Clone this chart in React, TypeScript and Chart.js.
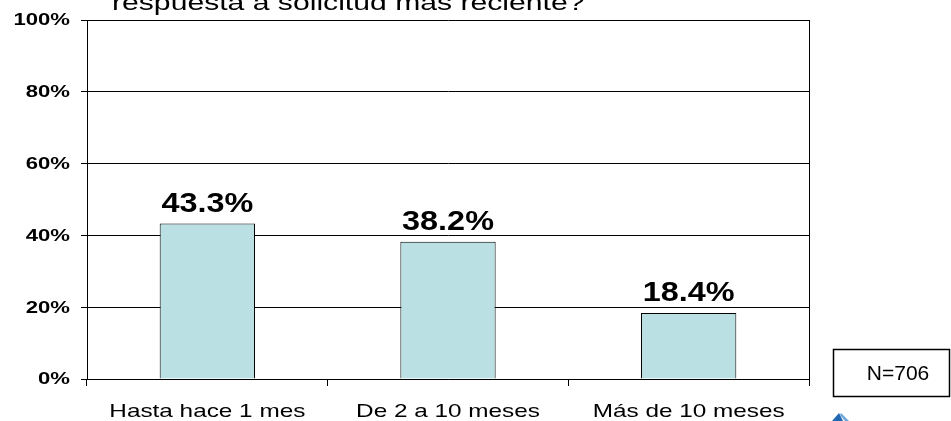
import React, { useEffect, useRef } from "react";
import { Chart, registerables } from "chart.js";

Chart.register(...registerables);

const categories = ["Hasta hace 1 mes", "De 2 a 10 meses", "Más de 10 meses"];
const values = [43.3, 38.2, 18.4];
const valueLabels = ["43.3%", "38.2%", "18.4%"];
const yTicks = [0, 20, 40, 60, 80, 100];
const yTickLabels = ["0%", "20%", "40%", "60%", "80%", "100%"];
const titleText = "respuesta a solicitud más reciente?";
const noteText = "N=706";

const FONT = "'Liberation Sans', Arial, sans-serif";

function stretchText(
  ctx: CanvasRenderingContext2D,
  text: string,
  x: number,
  y: number,
  font: string,
  sx: number,
  align: "left" | "center" | "right",
  baseline: CanvasTextBaseline,
  color = "#000"
) {
  ctx.save();
  ctx.font = font;
  ctx.fillStyle = color;
  ctx.textBaseline = baseline;
  ctx.textAlign = "left";
  const w = ctx.measureText(text).width * sx;
  const left = align === "center" ? x - w / 2 : align === "right" ? x - w : x;
  ctx.translate(left, y);
  ctx.scale(sx, 1);
  ctx.fillText(text, 0, 0);
  ctx.restore();
}

const decorPlugin = {
  id: "decor",
  afterDraw(chart: any) {
    const ctx: CanvasRenderingContext2D = chart.ctx;
    const { chartArea } = chart;
    const xs = chart.scales.x;
    const ys = chart.scales.y;

    // right border of plot area
    ctx.save();
    ctx.strokeStyle = "#000";
    ctx.lineWidth = 1;
    ctx.beginPath();
    ctx.moveTo(Math.round(chartArea.right) + 0.5, chartArea.top);
    ctx.lineTo(Math.round(chartArea.right) + 0.5, chartArea.bottom);
    ctx.stroke();
    ctx.restore();

    // y tick labels
    yTicks.forEach((v, i) => {
      const y = ys.getPixelForValue(v);
      stretchText(ctx, yTickLabels[i], 70, y + 1, `bold 16px ${FONT}`, 1.38, "right", "middle");
    });

    // x labels
    categories.forEach((c, i) => {
      const x = xs.getPixelForValue(i);
      stretchText(ctx, c, x, 412, `19px ${FONT}`, 1.28, "center", "middle");
    });

    // value labels
    const meta = chart.getDatasetMeta(0);
    meta.data.forEach((bar: any, i: number) => {
      stretchText(ctx, valueLabels[i], bar.x, bar.y - 12, `bold 27px ${FONT}`, 1.2, "center", "alphabetic");
    });

    // title (cut off at top)
    stretchText(ctx, titleText, 112, 10, `22px ${FONT}`, 1.37, "left", "alphabetic");

    // N box
    ctx.save();
    ctx.strokeStyle = "#000";
    ctx.lineWidth = 1.5;
    ctx.strokeRect(833.5, 349.5, 116, 47);
    ctx.restore();
    stretchText(ctx, noteText, 898, 374, `21px ${FONT}`, 1.0, "center", "middle");

    // small blue icon
    ctx.save();
    ctx.fillStyle = "#1f67b1";
    ctx.beginPath();
    ctx.moveTo(832, 421);
    ctx.lineTo(839, 413);
    ctx.lineTo(843, 421);
    ctx.closePath();
    ctx.fill();
    ctx.fillStyle = "#6fa6d8";
    ctx.beginPath();
    ctx.moveTo(841, 413);
    ctx.lineTo(849, 421);
    ctx.lineTo(845, 421);
    ctx.lineTo(840, 415);
    ctx.closePath();
    ctx.fill();
    ctx.restore();
  },
};

export default function App() {
  const ref = useRef<HTMLCanvasElement | null>(null);

  useEffect(() => {
    if (!ref.current) return;
    const chart = new Chart(ref.current, {
      type: "bar",
      data: {
        labels: categories,
        datasets: [
          {
            data: values,
            backgroundColor: "#BAE0E3",
            borderColor: "#000",
            borderWidth: 1,
            categoryPercentage: 1,
            barPercentage: 0.396,
          },
        ],
      },
      options: {
        animation: false,
        responsive: false,
        maintainAspectRatio: false,
        layout: { padding: { top: 20, right: 142, left: 0, bottom: 0 } },
        plugins: {
          legend: { display: false },
          tooltip: { enabled: false },
          title: { display: false },
        },
        scales: {
          x: {
            offset: true,
            grid: {
              display: true,
              drawOnChartArea: false,
              drawTicks: true,
              tickLength: 7,
              color: "#000",
              offset: true,
            },
            border: { display: true, color: "#000", width: 1 },
            ticks: { display: false },
            afterFit: (s: any) => {
              s.height = 42;
            },
          },
          y: {
            min: 0,
            max: 100,
            ticks: { display: false, stepSize: 20 },
            grid: { color: "#000", tickLength: 6, drawTicks: true },
            border: { display: true, color: "#000", width: 1 },
            afterFit: (s: any) => {
              s.width = 87;
            },
          },
        },
      },
      plugins: [decorPlugin],
    });
    return () => chart.destroy();
  }, []);

  return (
    <div style={{ position: "absolute", left: 0, top: 0, width: 951, height: 421, background: "#fff" }}>
      <canvas ref={ref} width={951} height={421} style={{ display: "block" }} />
    </div>
  );
}
